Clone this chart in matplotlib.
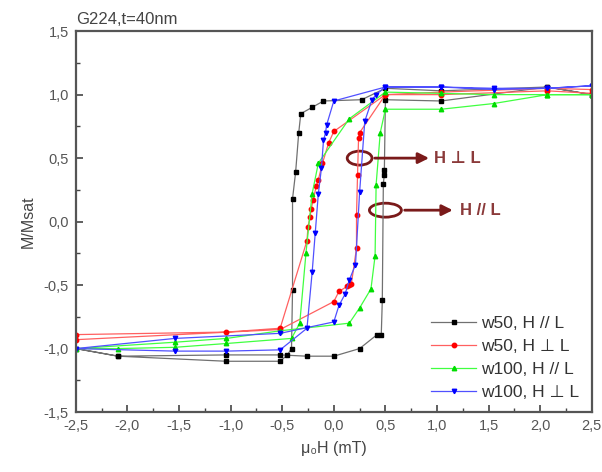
import matplotlib
matplotlib.use("Agg")
import matplotlib.pyplot as plt
from matplotlib.patches import Ellipse
from matplotlib.ticker import MultipleLocator, FuncFormatter

plt.rcParams['font.family'] = ['Liberation Sans', 'DejaVu Sans']

# --- data (loops: descending branch then ascending branch) ---
w50_par_x = [2.5, 2.07, 1.04, 0.5, 0.27, -0.1, -0.21, -0.32, -0.34, -0.37, -0.40, -0.40, -0.41,
             -0.45, -0.52, -1.04, -2.09, -2.5,
             -2.09, -1.04, -0.52, -0.26, 0.0, 0.25, 0.42, 0.46, 0.47, 0.48, 0.49, 0.49, 0.5, 1.04, 2.07, 2.5]
w50_par_y = [1.0, 1.06, 1.03, 1.05, 0.96, 0.95, 0.90, 0.85, 0.70, 0.39, 0.18, -0.54, -1.0,
             -1.05, -1.10, -1.10, -1.06, -1.0,
             -1.06, -1.05, -1.05, -1.06, -1.06, -1.0, -0.89, -0.89, -0.62, 0.30, 0.37, 0.41, 0.96, 0.95, 1.06, 1.0]

w50_perp_x = [2.5, 2.07, 1.04, 0.5, 0.0, -0.05, -0.11, -0.15, -0.17, -0.20, -0.22, -0.23, -0.25, -0.26,
              -0.52, -1.04, -2.5, -2.5,
              -0.52, 0.0, 0.05, 0.13, 0.15, 0.17, 0.22, 0.22, 0.23, 0.24, 0.25, 0.5, 1.04, 2.07, 2.5]
w50_perp_y = [1.04, 1.05, 1.02, 1.0, 0.71, 0.62, 0.46, 0.33, 0.28, 0.17, 0.10, 0.04, -0.04, -0.15,
              -0.84, -0.87, -0.89, -0.93,
              -0.85, -0.63, -0.55, -0.51, -0.50, -0.49, -0.21, 0.05, 0.37, 0.66, 0.70, 1.0, 1.0, 1.03, 1.01]

w100_par_x = [2.5, 2.07, 1.55, 1.04, 0.5, 0.15, -0.15, -0.21, -0.27, -0.33, -0.41,
              -1.04, -1.54, -2.09, -2.5,
              -1.54, -1.04, -0.52, 0.15, 0.25, 0.36, 0.40, 0.41, 0.45, 0.5, 1.04, 1.55, 2.07, 2.5]
w100_par_y = [1.0, 1.0, 1.0, 1.01, 1.02, 0.81, 0.46, 0.22, -0.25, -0.80, -0.92,
              -0.96, -0.99, -1.0, -1.0,
              -0.95, -0.92, -0.86, -0.80, -0.68, -0.53, -0.27, 0.29, 0.70, 0.885, 0.885, 0.93, 1.0, 1.0]

w100_perp_x = [2.5, 2.07, 1.55, 1.04, 0.5, 0.0, -0.07, -0.08, -0.10, -0.12, -0.15, -0.18, -0.21, -0.26,
               -0.52, -1.04, -1.54, -2.5,
               -1.54, -0.52, 0.0, 0.05, 0.11, 0.15, 0.21, 0.25, 0.30, 0.37, 0.41, 0.5, 1.04, 1.55, 2.07, 2.5]
w100_perp_y = [1.07, 1.05, 1.04, 1.06, 1.06, 0.95, 0.76, 0.70, 0.64, 0.42, 0.22, -0.09, -0.40, -0.84,
               -1.01, -1.02, -1.02, -1.0,
               -0.92, -0.88, -0.79, -0.66, -0.57, -0.46, -0.34, 0.23, 0.79, 0.96, 1.0, 1.06, 1.06, 1.05, 1.05, 1.07]

series = [
    (w50_par_x, w50_par_y, 'w50, H // L', '#000000', '#707070', 's'),
    (w50_perp_x, w50_perp_y, 'w50, H \u22a5 L', '#ff0000', '#ff6060', 'o'),
    (w100_par_x, w100_par_y, 'w100, H // L', '#00dd00', '#40ff40', '^'),
    (w100_perp_x, w100_perp_y, 'w100, H \u22a5 L', '#0000ff', '#5050ff', 'v'),
]

fig = plt.figure(figsize=(6.02, 4.72), dpi=100)
ax = fig.add_axes([0.126, 0.127, 0.857, 0.807])

for x, y, lab, mc, lc, mk in series:
    ax.plot(x, y, color=lc, lw=0.9, marker=mk, ms=3.2, mfc=mc, mec=mc, label=lab)

ax.set_xlim(-2.5, 2.5)
ax.set_ylim(-1.5, 1.5)
ax.xaxis.set_major_locator(MultipleLocator(0.5))
ax.xaxis.set_minor_locator(MultipleLocator(0.25))
ax.yaxis.set_major_locator(MultipleLocator(0.5))
ax.yaxis.set_minor_locator(MultipleLocator(0.25))
comma = FuncFormatter(lambda v, p: f"{v:.1f}".replace('.', ','))
ax.xaxis.set_major_formatter(comma)
ax.yaxis.set_major_formatter(comma)
ax.tick_params(which='both', direction='in', colors='#444444', labelcolor='#555555',
               labelsize=10.5, top=False, right=False)
ax.tick_params(which='major', length=5, width=1.2, pad=5)
ax.tick_params(which='minor', length=3, width=1.0)
for s in ax.spines.values():
    s.set_linewidth(1.6)
    s.set_color('#555555')

ax.set_xlabel('\u03bc\u2080H (mT)', fontsize=11.5, color='#444444', labelpad=6)
ax.set_ylabel('M/Msat', fontsize=11.5, color='#444444', labelpad=6)
ax.set_title('G224,t=40nm', loc='left', fontsize=12, color='#444444', pad=5)

# annotations
dark = '#7a1a1a'
ax.add_patch(Ellipse((0.25, 0.50), 0.24, 0.11, fill=False, ec=dark, lw=2))
ax.annotate('', xy=(0.95, 0.50), xytext=(0.37, 0.50),
            arrowprops=dict(arrowstyle='-|>', color=dark, lw=2, mutation_scale=16))
ax.text(0.97, 0.50, 'H \u22a5 L', color='#8b3a3a', fontsize=12, fontweight='bold', va='center')
ax.add_patch(Ellipse((0.50, 0.09), 0.31, 0.11, fill=False, ec=dark, lw=2))
ax.annotate('', xy=(1.18, 0.09), xytext=(0.66, 0.09),
            arrowprops=dict(arrowstyle='-|>', color=dark, lw=2, mutation_scale=16))
ax.text(1.22, 0.09, 'H // L', color='#8b3a3a', fontsize=12, fontweight='bold', va='center')

leg = ax.legend(loc='lower right', frameon=False, fontsize=12.5, handlelength=2.6,
                labelspacing=0.45, borderaxespad=0.3, handletextpad=0.3)
for t in leg.get_texts():
    t.set_color('#333333')

fig.savefig('out.png', dpi=100)
